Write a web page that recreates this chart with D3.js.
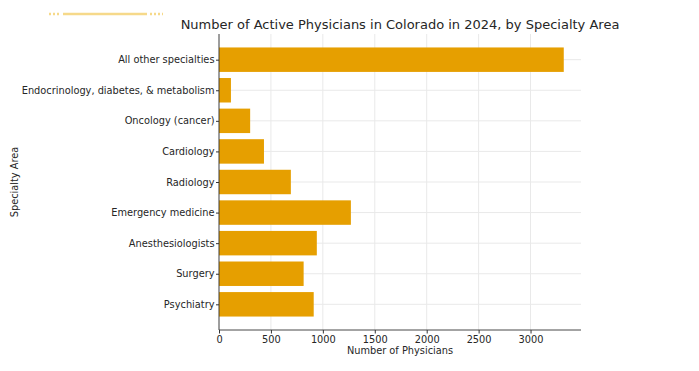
<!DOCTYPE html>
<html>
<head>
<meta charset="utf-8">
<script src="https://cdn.jsdelivr.net/npm/d3@7"></script>
<style>
  body { margin: 0; background: #fff; }
  svg { font-family: "DejaVu Sans", sans-serif; }
</style>
</head>
<body>
<svg id="chart" width="699" height="371"></svg>
<script>
const specialties = [
    "All other specialties",
    "Endocrinology, diabetes, & metabolism",
    "Oncology (cancer)",
    "Cardiology",
    "Radiology",
    "Emergency medicine",
    "Anesthesiologists",
    "Surgery",
    "Psychiatry"
];
const physicians = [3320, 115, 300, 433, 692, 1270, 942, 815, 912];
const xTicks = [0, 500, 1000, 1500, 2000, 2500, 3000];

const margin = { top: 34, right: 118, bottom: 41, left: 219 };
const svg = d3.select("#chart");
const width = +svg.attr("width") - margin.left - margin.right;
const height = +svg.attr("height") - margin.top - margin.bottom;

const data = specialties.map((name, i) => ({ name, value: physicians[i] }));

// matplotlib-like padding: bars 0.8 tall, 5% margin
const n = specialties.length;
const yScale = d3.scaleLinear().domain([-0.84, n - 1 + 0.84]).range([0, height]);
const xScale = d3.scaleLinear().domain([0, d3.max(physicians) * 1.05]).range([0, width]);

const g = svg.append("g").attr("transform", `translate(${margin.left},${margin.top})`);

// grid
g.append("g").selectAll("line").data(xTicks).join("line")
    .attr("x1", d => xScale(d)).attr("x2", d => xScale(d))
    .attr("y1", 0).attr("y2", height)
    .attr("stroke", "#e9e9e9").attr("stroke-width", 1);
g.append("g").selectAll("line").data(d3.range(n)).join("line")
    .attr("x1", 0).attr("x2", width)
    .attr("y1", d => yScale(d)).attr("y2", d => yScale(d))
    .attr("stroke", "#e9e9e9").attr("stroke-width", 1);

// bars
g.append("g").selectAll("rect").data(data).join("rect")
    .attr("x", xScale(0))
    .attr("y", (d, i) => yScale(i - 0.4))
    .attr("width", d => xScale(d.value) - xScale(0))
    .attr("height", yScale(0.8) - yScale(0))
    .attr("fill", "#e69f00");

// axes
const xAxis = g.append("g")
    .attr("transform", `translate(0,${height})`)
    .call(d3.axisBottom(xScale).tickValues(xTicks).tickFormat(d3.format("d")).tickSize(3.5).tickPadding(3));
const yAxis = g.append("g")
    .call(d3.axisLeft(yScale).tickValues(d3.range(n)).tickFormat(i => specialties[i]).tickSize(3).tickPadding(1.5));

[xAxis, yAxis].forEach(ax => {
    ax.attr("font-family", "DejaVu Sans, sans-serif").attr("font-size", null);
    ax.selectAll("text").attr("fill", "#262626").style("font-size", "9.8px");
    ax.selectAll("line").attr("stroke", "#333");
    ax.select(".domain").attr("stroke", "#333").attr("stroke-width", 0.9);
});
xAxis.select(".domain").attr("d", `M0,0H${width}`);
yAxis.select(".domain").attr("d", `M0,0V${height}`);

// labels
svg.append("text")
    .attr("x", margin.left + width / 2).attr("y", 29)
    .attr("text-anchor", "middle")
    .attr("fill", "#262626").style("font-size", "13px")
    .text("Number of Active Physicians in Colorado in 2024, by Specialty Area");

svg.append("text")
    .attr("x", margin.left + width / 2).attr("y", 354)
    .attr("text-anchor", "middle")
    .attr("fill", "#262626").style("font-size", "9.8px")
    .text("Number of Physicians");

svg.append("text")
    .attr("transform", `translate(18,${margin.top + height / 2}) rotate(-90)`)
    .attr("text-anchor", "middle")
    .attr("fill", "#262626").style("font-size", "9.8px")
    .text("Specialty Area");

// faint decoration at top left
const deco = svg.append("g").attr("stroke", "#f6d98a").attr("stroke-width", 2.5);
deco.append("line").attr("x1", 49).attr("x2", 61).attr("y1", 14).attr("y2", 14).attr("stroke-dasharray", "2,2");
deco.append("line").attr("x1", 63).attr("x2", 147).attr("y1", 14).attr("y2", 14);
deco.append("line").attr("x1", 150).attr("x2", 163).attr("y1", 14).attr("y2", 14).attr("stroke-dasharray", "2,2");
</script>
</body>
</html>
